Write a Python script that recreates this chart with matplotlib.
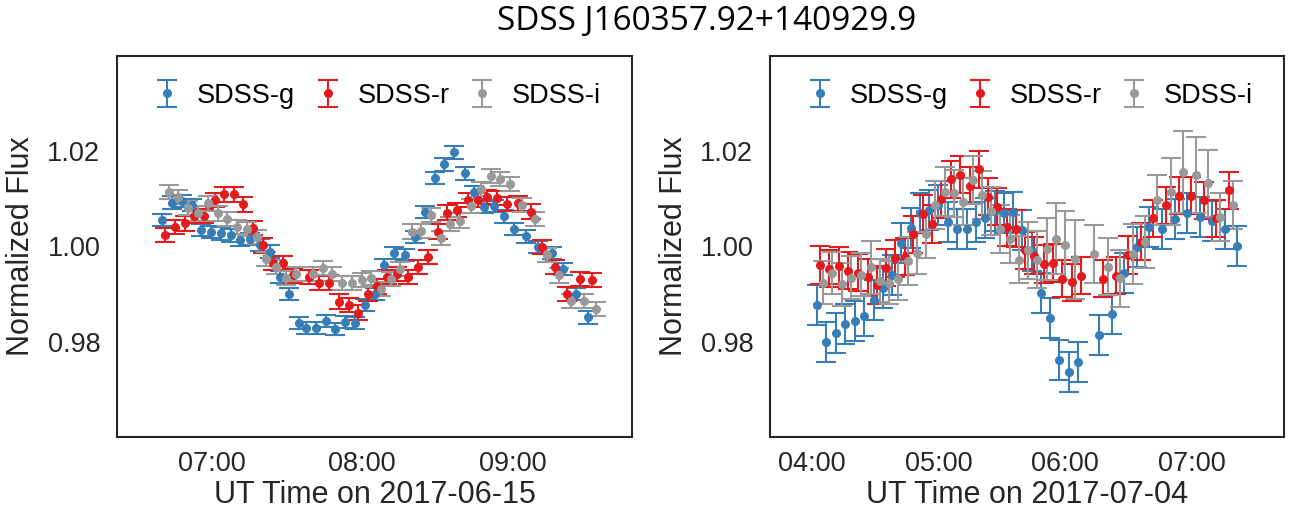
import matplotlib
matplotlib.use("Agg")
import matplotlib.pyplot as plt
from matplotlib.ticker import FixedLocator, FuncFormatter

plt.rcParams['font.family'] = ['Liberation Sans', 'DejaVu Sans']

# ---- night 1: 2017-06-15 (UT hours) ----
g1_t = [6.667, 6.733, 6.800, 6.865, 6.927, 6.995, 7.060, 7.125, 7.188, 7.255, 7.322, 7.387,
        7.450, 7.515, 7.582, 7.628, 7.692, 7.757, 7.822, 7.887, 7.952, 8.017, 8.082, 8.147,
        8.212, 8.285, 8.352, 8.418, 8.485, 8.547, 8.612, 8.685, 8.747, 8.813, 8.878, 8.942,
        9.010, 9.093, 9.172, 9.262, 9.335, 9.422, 9.502]
g1_f = [1.0055, 1.0092, 1.0095, 1.0087, 1.0034, 1.0030, 1.0027, 1.0023, 1.0013, 1.0015, 1.0003, 0.9989,
        0.9936, 0.9900, 0.9839, 0.9829, 0.9829, 0.9844, 0.9827, 0.9841, 0.9839, 0.9877, 0.9900, 0.9961,
        0.9986, 0.9982, 1.0019, 1.0072, 1.0143, 1.0172, 1.0197, 1.0153, 1.0113, 1.0083, 1.0085, 1.0063,
        1.0037, 1.0021, 0.9999, 0.9986, 0.9952, 0.9900, 0.9851]
r1_t = [6.688, 6.755, 6.818, 6.882, 6.948, 7.018, 7.080, 7.145, 7.208, 7.275, 7.340, 7.407,
        7.473, 7.537, 7.648, 7.715, 7.778, 7.843, 7.910, 7.973, 8.038, 8.098, 8.167, 8.233,
        8.307, 8.373, 8.438, 8.503, 8.567, 8.633, 8.702, 8.768, 8.833, 8.898, 8.962, 9.040,
        9.122, 9.200, 9.283, 9.363, 9.448, 9.530]
r1_f = [1.0024, 1.0041, 1.0048, 1.0064, 1.0064, 1.0097, 1.0109, 1.0109, 1.0088, 1.0039, 1.0002, 0.9965,
        0.9965, 0.9939, 0.9936, 0.9923, 0.9924, 0.9884, 0.9877, 0.9861, 0.9900, 0.9916, 0.9936, 0.9942,
        0.9936, 0.9957, 0.9978, 1.0031, 1.0071, 1.0076, 1.0097, 1.0097, 1.0104, 1.0101, 1.0089, 1.0090,
        1.0073, 0.9999, 0.9957, 0.9900, 0.9932, 0.9930]
i1_t = [6.712, 6.773, 6.840, 6.905, 6.972, 7.038, 7.102, 7.167, 7.233, 7.298, 7.362, 7.428,
        7.495, 7.560, 7.672, 7.737, 7.802, 7.868, 7.932, 7.997, 8.060, 8.125, 8.190, 8.253,
        8.330, 8.392, 8.458, 8.523, 8.587, 8.653, 8.725, 8.792, 8.855, 8.920, 8.983, 9.067,
        9.147, 9.230, 9.308, 9.390, 9.475, 9.555]
i1_f = [1.0114, 1.0103, 1.0080, 1.0069, 1.0090, 1.0069, 1.0058, 1.0040, 1.0037, 1.0020, 0.9973, 0.9957,
        0.9934, 0.9942, 0.9942, 0.9955, 0.9942, 0.9923, 0.9923, 0.9930, 0.9933, 0.9910, 0.9932, 0.9953,
        1.0031, 1.0032, 1.0066, 1.0017, 1.0047, 1.0054, 1.0085, 1.0120, 1.0148, 1.0142, 1.0131, 1.0087,
        1.0058, 0.9982, 0.9939, 0.9885, 0.9885, 0.9869]
g1_err = 0.0013
r1_err = 0.0015
i1_err = 0.0015

# ---- night 2: 2017-07-04 (UT hours) ----
g2_t = [4.044, 4.115, 4.189, 4.263, 4.342, 4.415, 4.489, 4.563, 4.636, 4.707, 4.781, 4.852,
        4.926, 4.999, 5.076, 5.149, 5.223, 5.297, 5.370, 5.444, 5.515, 5.589, 5.662, 5.736,
        5.807, 5.881, 5.954, 6.028, 6.102, 6.268, 6.368, 6.467, 6.565, 6.662, 6.767, 6.865,
        6.964, 7.062, 7.162, 7.260, 7.357]
g2_f = [0.9877, 0.9799, 0.9818, 0.9837, 0.9844, 0.9853, 0.9888, 0.9912, 0.9940, 1.0008, 1.0039, 1.0069,
        1.0076, 1.0087, 1.0051, 1.0036, 1.0036, 1.0051, 1.0059, 1.0074, 1.0069, 1.0072, 1.0034, 0.9990,
        0.9902, 0.9850, 0.9762, 0.9737, 0.9757, 0.9814, 0.9858, 0.9944, 0.9998, 1.0040, 1.0036, 1.0057,
        1.0069, 1.0062, 1.0054, 1.0036, 1.0000]
r2_t = [4.066, 4.139, 4.213, 4.287, 4.363, 4.442, 4.513, 4.586, 4.660, 4.734, 4.802, 4.876,
        4.949, 5.023, 5.099, 5.173, 5.247, 5.318, 5.391, 5.465, 5.539, 5.612, 5.686, 5.755,
        5.831, 5.904, 5.978, 6.052, 6.125, 6.302, 6.402, 6.499, 6.597, 6.696, 6.799, 6.899,
        6.996, 7.094, 7.193, 7.291]
r2_f = [0.9961, 0.9953, 0.9959, 0.9949, 0.9945, 0.9935, 0.9919, 0.9955, 0.9975, 0.9978, 1.0025, 1.0068,
        1.0047, 1.0099, 1.0141, 1.0150, 1.0127, 1.0162, 1.0104, 1.0083, 1.0040, 1.0037, 0.9992, 0.9980,
        0.9963, 0.9965, 0.9932, 0.9925, 0.9938, 0.9932, 0.9938, 0.9982, 1.0010, 1.0059, 1.0086, 1.0106,
        1.0106, 1.0097, 1.0059, 1.0118]
i2_t = [4.092, 4.163, 4.239, 4.313, 4.389, 4.466, 4.539, 4.612, 4.684, 4.758, 4.829, 4.902,
        4.976, 5.050, 5.123, 5.197, 5.271, 5.344, 5.418, 5.489, 5.563, 5.634, 5.707, 5.781,
        5.855, 5.928, 6.002, 6.076, 6.228, 6.336, 6.433, 6.533, 6.628, 6.725, 6.833, 6.930,
        7.031, 7.128, 7.225, 7.323]
i2_f = [0.9924, 0.9944, 0.9920, 0.9934, 0.9940, 0.9956, 0.9928, 0.9924, 0.9932, 0.9969, 0.9986, 1.0025,
        1.0087, 1.0115, 1.0111, 1.0094, 1.0139, 1.0108, 1.0074, 1.0037, 1.0016, 0.9972, 0.9992, 0.9972,
        0.9994, 1.0016, 1.0002, 0.9973, 0.9984, 0.9957, 0.9933, 0.9984, 1.0009, 1.0097, 1.0115, 1.0156,
        1.0150, 1.0132, 1.0062, 1.0087]
g2_err = 0.0042
r2_err = 0.0039
i2_err = [0.0045, 0.0045, 0.0045, 0.0045, 0.0045, 0.0055, 0.0045, 0.0045, 0.0045, 0.0050, 0.0045, 0.0050,
          0.0050, 0.0052, 0.0050, 0.0050, 0.0050, 0.0050, 0.0050, 0.0050, 0.0050, 0.0049, 0.0060, 0.0060,
          0.0065, 0.0074, 0.0072, 0.0083, 0.0060, 0.0060, 0.0060, 0.0062, 0.0055, 0.0053, 0.0071, 0.0086,
          0.0080, 0.0070, 0.0050, 0.0050]

title = "SDSS J160357.92+140929.9"
band_labels = ["SDSS-g", "SDSS-r", "SDSS-i"]
band_colors = ["#377eb8", "#e41a1c", "#999999"]

W, H = 1292, 513
fig = plt.figure(figsize=(W / 100, H / 100), dpi=100)
ax1 = fig.add_axes([117 / W, 1 - 437 / H, 515 / W, 381.3 / H])
ax2 = fig.add_axes([770 / W, 1 - 437 / H, 514 / W, 381.3 / H])

nights = [
    (ax1, [(g1_t, g1_f, g1_err), (r1_t, r1_f, r1_err), (i1_t, i1_f, i1_err)],
     (6.3675, 9.796), [7, 8, 9], "UT Time on 2017-06-15"),
    (ax2, [(g2_t, g2_f, g2_err), (r2_t, r2_f, r2_err), (i2_t, i2_f, i2_err)],
     (3.671, 7.728), [4, 5, 6, 7], "UT Time on 2017-07-04"),
]

for ax, bands, xlim, hours, xlabel in nights:
    for (t, f, e), lab, col in zip(bands, band_labels, band_colors):
        ax.errorbar(t, f, yerr=e, fmt='o', color=col, ms=5.5, elinewidth=1.5,
                    capsize=7, capthick=1.5, label=lab)
    ax.set_xlim(*xlim)
    ax.set_ylim(0.96, 1.04)
    ax.xaxis.set_major_locator(FixedLocator(hours))
    ax.xaxis.set_major_formatter(FuncFormatter(lambda v, p: "%02d:00" % int(round(v))))
    ax.set_yticks([0.98, 1.00, 1.02])
    ax.set_yticklabels(["0.98", "1.00", "1.02"])
    ax.tick_params(axis='both', length=0, labelsize=19.5, colors='#262626')
    ax.tick_params(axis='x', pad=10)
    ax.tick_params(axis='y', pad=12)
    ax.set_xlabel(xlabel, fontsize=22, color='#262626', labelpad=2)
    ax.set_ylabel("Normalized Flux", fontsize=22, color='#262626', labelpad=8)
    for s in ax.spines.values():
        s.set_color('#262626')
        s.set_linewidth(1.5)
    ax.legend(loc='upper center', ncol=3, frameon=False, fontsize=19.5,
              handlelength=1.4, handletextpad=0.4, columnspacing=0.5,
              borderaxespad=0.6)

fig.suptitle(title, family=['Open Sans', 'DejaVu Sans'], fontsize=24, x=0.547,
             y=0.99, va='top')

fig.savefig("out.png", dpi=100)
